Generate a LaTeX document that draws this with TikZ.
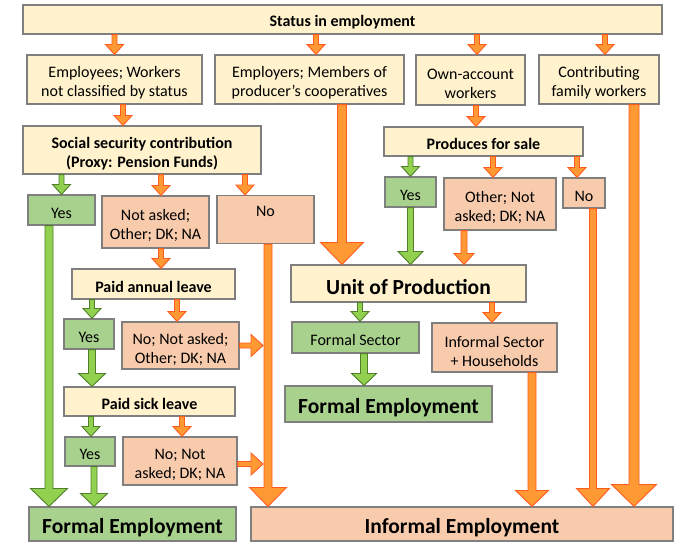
\documentclass[tikz,border=0pt]{standalone}
\usepackage{fontspec}
\setmainfont{Carlito}
\usetikzlibrary{calc}
\definecolor{beige}{HTML}{FFF2CC}
\definecolor{gfill}{HTML}{A9D18E}
\definecolor{sfill}{HTML}{F8CBAD}
\definecolor{bord}{HTML}{7F7F7F}
\definecolor{aor}{HTML}{FF9933}
\definecolor{aorl}{HTML}{FF5B1F}
\definecolor{agr}{HTML}{92D050}
\definecolor{agrl}{HTML}{507E2A}
\newcommand\upstrut{\rule{0pt}{18.5pt}}
% vertical block arrow: style, start, end, shaft width, head width, head length (x from start)
\newcommand\varr[6]{\draw[#1] let \p1=#2, \p2=#3 in
  (\x1-#4pt/2,\y1) -- (\x1+#4pt/2,\y1) -- (\x1+#4pt/2,\y2+#6pt) -- (\x1+#5pt/2,\y2+#6pt)
  -- (\x1,\y2) -- (\x1-#5pt/2,\y2+#6pt) -- (\x1-#4pt/2,\y2+#6pt) -- cycle;}
% horizontal block arrow (y from start)
\newcommand\harr[6]{\draw[#1] let \p1=#2, \p2=#3 in
  (\x1,\y1-#4pt/2) -- (\x2-#6pt,\y1-#4pt/2) -- (\x2-#6pt,\y1-#5pt/2) -- (\x2,\y1)
  -- (\x2-#6pt,\y1+#5pt/2) -- (\x2-#6pt,\y1+#4pt/2) -- (\x1,\y1+#4pt/2) -- cycle;}
\begin{document}
\begin{tikzpicture}[x=1pt,y=-1pt,
  box/.style={draw=bord, line width=1.1pt, inner sep=0pt, align=center,
    font=\fontsize{16}{19}\selectfont, execute at begin node={\rule{0pt}{17pt}}},
  bbox/.style={box, font=\fontsize{16}{19}\selectfont\bfseries},
  bigbox/.style={box, font=\fontsize{21.5}{24}\selectfont\bfseries,
    execute at begin node={\rule{0pt}{22.5pt}}},
  yel/.style={fill=beige}, grn/.style={fill=gfill}, sal/.style={fill=sfill},
  oarr/.style={fill=aor, draw=aorl, line width=0.9pt, line join=miter},
  garr/.style={fill=agr, draw=agrl, line width=0.9pt, line join=miter}]
\useasboundingbox[fill=white] (0,0) rectangle (696,557);

% boxes
\node[bbox,yel,minimum width=639,minimum height=29] (top) at (342.5,19.5) {Status in employment};
\node[box,yel,minimum width=175,minimum height=49] (emp) at (114.5,79.5) {\upstrut Employees; Workers\\not classified by status};
\node[box,yel,minimum width=189,minimum height=49] (empl) at (309.5,79.5) {\upstrut Employers; Members of\\producer’s cooperatives};
\node[box,yel,minimum width=109,minimum height=50] (own) at (470.5,80) {\upstrut Own-account\\workers};
\node[box,yel,minimum width=120,minimum height=49] (cfw) at (599,79.5) {\upstrut Contributing\\family workers};

\node[bbox,yel,minimum width=238,minimum height=48] (ss) at (142,150) {\upstrut Social security contribution\\(Proxy: Pension Funds)};
\node[box,grn,minimum width=67,minimum height=30] (yes1) at (61.5,210) {Yes};
\node[box,sal,minimum width=107,minimum height=52] (na1) at (155.5,222) {\upstrut Not asked;\\Other; DK; NA};
\node[box,sal,minimum width=97,text height=21pt,text depth=27pt,anchor=north] (no1) at (265.5,195) {No};

\node[bbox,yel,minimum width=163,minimum height=30] (pal) at (153.5,284) {Paid annual leave};
\node[box,grn,minimum width=50,minimum height=30] (yes2) at (89,334) {Yes};
\node[box,sal,minimum width=117,minimum height=47] (no2) at (180.5,345.5) {\upstrut No; Not asked;\\Other; DK; NA};
\node[bbox,yel,minimum width=171,minimum height=29] (psl) at (149.5,401.5) {Paid sick leave};
\node[box,grn,minimum width=50,minimum height=29] (yes3) at (90,451.5) {Yes};
\node[box,sal,minimum width=114,minimum height=48] (no3) at (180,461) {\upstrut No; Not\\asked; DK; NA};

\node[bigbox,grn,minimum width=207,minimum height=34] (fe1) at (132.5,524) {Formal Employment};
\node[bigbox,sal,minimum width=422,minimum height=34] (ie) at (462,524) {Informal Employment};

\node[bbox,yel,minimum width=199,minimum height=29] (pfs) at (483.5,141.5) {Produces for sale};
\node[box,grn,minimum width=51,minimum height=30] (yes4) at (410.5,192) {Yes};
\node[box,sal,minimum width=112,minimum height=52] (oth) at (500,204) {\upstrut Other; Not\\asked; DK; NA};
\node[box,sal,minimum width=42,minimum height=30] (no4) at (584,193) {No};

\node[bigbox,yel,minimum width=235,minimum height=37] (unit) at (408.5,283.5) {Unit of Production};
\node[box,grn,minimum width=127,minimum height=31] (fs) at (355.5,337.5) {Formal Sector};
\node[box,sal,minimum width=125,minimum height=49] (is) at (494.5,347.5) {\upstrut Informal Sector\\+ Households};
\node[bigbox,grn,minimum width=207,minimum height=36] (fe2) at (388.5,404) {Formal Employment};

\coordinate (shaft1) at (263,346);
\coordinate (shaft2) at (263,464);

% arrows: top row
\varr{oarr}{(top.south -| emp.north)}{(emp.north)}{5}{18}{10}
\varr{oarr}{($(top.south -| empl.north)+(6.5,0)$)}{(empl.north)}{5}{18}{10}
\varr{oarr}{($(top.south -| own.north)+(6.5,0)$)}{(own.north)}{5}{18}{10}
\varr{oarr}{($(top.south -| cfw.north)+(6,0)$)}{(cfw.north)}{5}{18}{10}
% employees branch
\varr{oarr}{($(emp.south)+(8.5,0)$)}{(ss.north)}{5}{18}{10}
\varr{garr}{(ss.south -| yes1.north)}{(yes1.north)}{5}{18}{10}
\varr{oarr}{($(ss.south -| na1.north)+(5.5,0)$)}{(na1.north)}{5}{18}{10}
\varr{oarr}{($(ss.south -| no1.north)+(-20.5,0)$)}{(no1.north)}{5}{18}{10}
\varr{garr}{($(yes1.south)+(-12.5,0)$)}{(fe1.north)}{8}{37}{18}
\varr{oarr}{($(no1.south)+(2.5,0)$)}{(ie.north)}{8}{37}{19}
\varr{oarr}{($(na1.south)+(5.5,0)$)}{(pal.north)}{5}{18}{10}
\varr{garr}{($(pal.south -| yes2.north)+(3,0)$)}{(yes2.north)}{5}{18}{10}
\varr{oarr}{($(pal.south -| no2.north)+(-3.5,0)$)}{(no2.north)}{5}{18}{10}
\varr{garr}{($(yes2.south)+(3,0)$)}{(psl.north)}{7}{27}{13}
\harr{oarr}{(no2.east)}{(shaft1)}{5}{22}{12}
\varr{garr}{($(psl.south -| yes3.north)+(1,0)$)}{(yes3.north)}{5}{18}{10}
\varr{oarr}{($(psl.south -| no3.north)+(2,0)$)}{(no3.north)}{5}{18}{10}
\varr{garr}{($(yes3.south)+(4,0)$)}{(fe1.north)}{6}{27}{13}
\harr{oarr}{($(no3.east)+(0,3)$)}{(shaft2)}{5}{22}{12}
% employers
\varr{oarr}{($(empl.south)+(32.5,0)$)}{(unit.north)}{9}{43}{22}
% own-account
\varr{oarr}{($(own.south)+(5.5,0)$)}{(pfs.north)}{5}{18}{10}
\varr{garr}{(pfs.south -| yes4.north)}{(yes4.north)}{5}{18}{10}
\varr{oarr}{($(pfs.south -| oth.north)+(-7,0)$)}{(oth.north)}{5}{18}{10}
\varr{oarr}{($(pfs.south -| no4.north)+(-7,0)$)}{(no4.north)}{5}{18}{10}
\varr{garr}{(yes4.south)}{(unit.north)}{6}{25}{13}
\varr{oarr}{($(oth.south)+(-36,0)$)}{(unit.north)}{6}{20}{11}
\varr{oarr}{($(no4.south)+(9,0)$)}{(ie.north)}{7}{33}{18}
% contributing
\varr{oarr}{($(cfw.south)+(35,0)$)}{(ie.north)}{10}{45}{22}
% unit of production
\varr{garr}{($(unit.south -| fs.north)+(4.5,0)$)}{(fs.north)}{5}{18}{10}
\varr{oarr}{($(unit.south -| is.north)+(-2.5,0)$)}{(is.north)}{5}{18}{10}
\varr{garr}{($(fs.south)+(8.5,0)$)}{(fe2.north)}{7}{25}{12}
\varr{oarr}{($(is.south)+(37.5,0)$)}{(ie.north)}{8}{33}{16}
\end{tikzpicture}
\end{document}
